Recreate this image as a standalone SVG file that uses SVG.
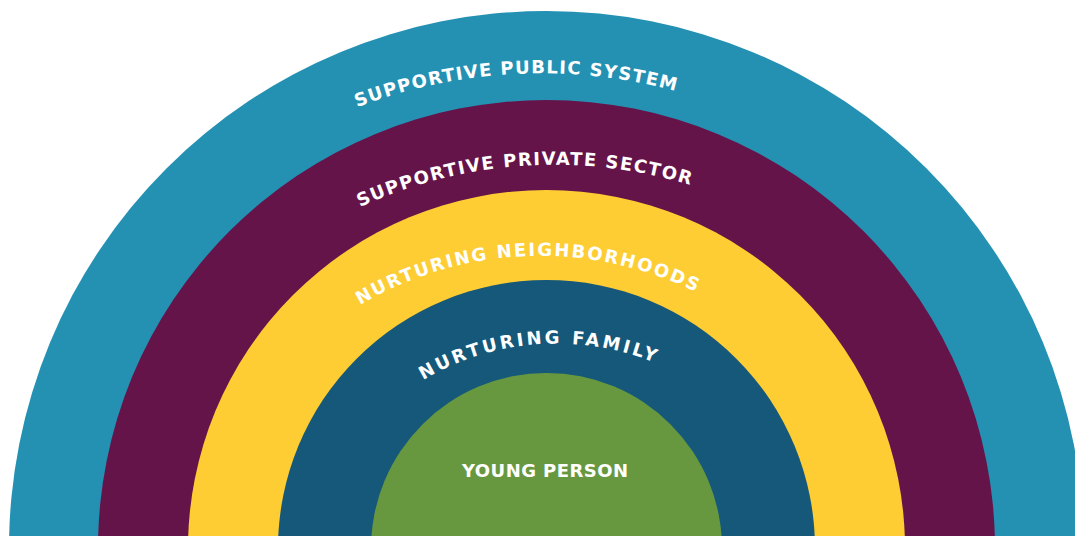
<svg xmlns="http://www.w3.org/2000/svg" width="1075" height="536" viewBox="0 0 1075 536">
  <style>
    .lbl { fill: #ffffff; font-family: "DejaVu Sans", "Liberation Sans", sans-serif; font-weight: bold; font-size: 18px; }
    .core { fill: #ffffff; font-family: "DejaVu Sans", "Liberation Sans", sans-serif; font-weight: bold; font-size: 18px; }
  </style>
  <defs>
    <!-- baseline arcs for the curved ring labels -->
    <path id="arc-public" d="M357,107.2 A518,518 0 0 1 676,91.1"/>
    <path id="arc-private" d="M360,207 A466.4,466.4 0 0 1 690,185"/>
    <path id="arc-neigh" d="M360,305 A354.1,354.1 0 0 1 696,292"/>
    <path id="arc-family" d="M423,380 A262,262 0 0 1 653,362"/>
  </defs>
  <rect width="1075" height="536" fill="#ffffff"/>

  <g id="public-system">
    <circle cx="546.5" cy="548.5" r="537.5" fill="#2491B3"/>
    <text class="lbl"><textPath href="#arc-public" textLength="324" lengthAdjust="spacing">SUPPORTIVE PUBLIC SYSTEM</textPath></text>
  </g>

  <g id="private-sector">
    <circle cx="546.5" cy="548.5" r="448.5" fill="#65144A"/>
    <text class="lbl"><textPath href="#arc-private" textLength="338" lengthAdjust="spacing">SUPPORTIVE PRIVATE SECTOR</textPath></text>
  </g>

  <g id="neighborhoods">
    <circle cx="546.5" cy="548.5" r="358.5" fill="#FECD34"/>
    <text class="lbl"><textPath href="#arc-neigh" textLength="350" lengthAdjust="spacing">NURTURING NEIGHBORHOODS</textPath></text>
  </g>

  <g id="family">
    <circle cx="546.5" cy="548.5" r="268.5" fill="#15587A"/>
    <text class="lbl"><textPath href="#arc-family" textLength="240" lengthAdjust="spacing">NURTURING FAMILY</textPath></text>
  </g>

  <g id="young-person">
    <circle cx="546.5" cy="548.5" r="175.5" fill="#67983F"/>
    <text class="core" x="462" y="477" textLength="166" lengthAdjust="spacing">YOUNG PERSON</text>
  </g>
</svg>
